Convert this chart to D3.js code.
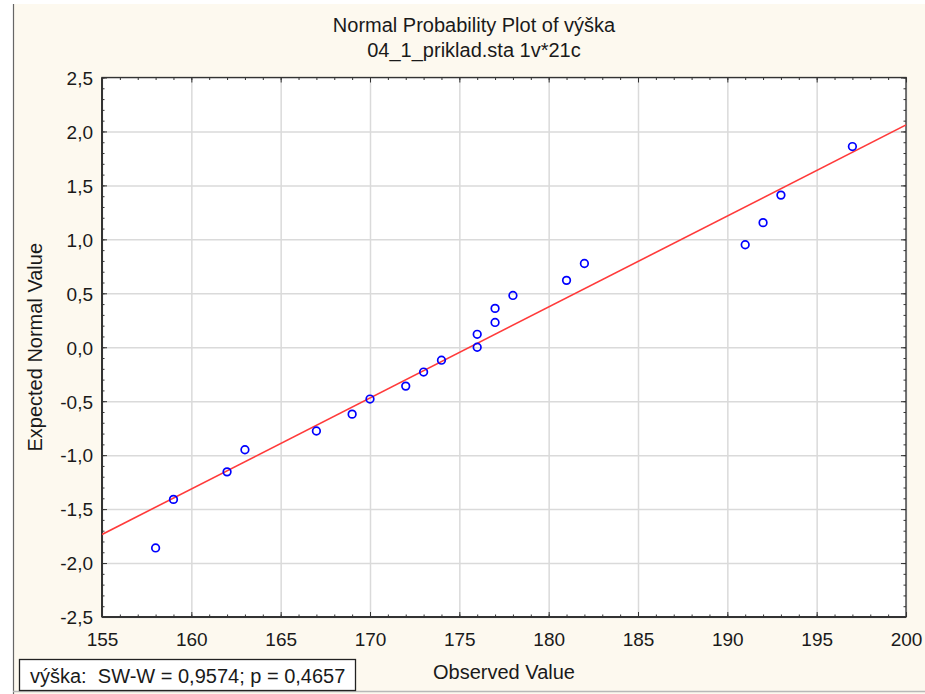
<!DOCTYPE html>
<html><head><meta charset="utf-8">
<script src="https://cdn.jsdelivr.net/npm/d3@7"></script>
<style>
html,body{margin:0;padding:0;background:#fff;}
svg{display:block;font-family:"Liberation Sans",Arial,sans-serif;}
</style></head>
<body>
<svg id="c" width="925" height="694"></svg>
<script>
// ---- data ----
const observed = [158,159,162,163,167,169,170,172,173,174,176,176,177,177,178,181,182,191,192,193,197];
const expected = [-1.86,-1.41,-1.155,-0.95,-0.776,-0.62,-0.48,-0.36,-0.23,-0.12,0.0,0.12,0.23,0.36,0.48,0.62,0.776,0.95,1.155,1.41,1.86];
const fitX = [155, 200];
const fitY = [-1.735, 2.06];
const xTicks = [155,160,165,170,175,180,185,190,195,200];
const yTicks = [-2.5,-2.0,-1.5,-1.0,-0.5,0.0,0.5,1.0,1.5,2.0,2.5];
const titleLines = ["Normal Probability Plot of výška", "04_1_priklad.sta 1v*21c"];
const xLabel = "Observed Value";
const yLabel = "Expected Normal Value";
const statText = "výška:  SW-W = 0,9574; p = 0,4657";

const svg = d3.select("#c");
const W = 925, H = 694;
const m = {l:102, t:77.5, r:906, b:617};

// background
svg.append("rect").attr("x",0).attr("y",0).attr("width",W).attr("height",H).attr("fill","#fff");
svg.append("rect").attr("x",13).attr("y",4).attr("width",W-13).attr("height",H-4).attr("fill","#fdf9ef");
svg.append("line").attr("x1",13.5).attr("x2",13.5).attr("y1",4).attr("y2",H).attr("stroke","#666").attr("stroke-width",1.2);
svg.append("line").attr("x1",13).attr("x2",W).attr("y1",691.5).attr("y2",691.5).attr("stroke","#b8b8b8").attr("stroke-width",1.5);

const x = d3.scaleLinear().domain([155,200]).range([m.l, m.r]);
const y = d3.scaleLinear().domain([-2.5,2.5]).range([m.b, m.t]);
const fmt = d => d3.format(".1f")(d).replace(".", ",").replace("−","-");

// plot area
svg.append("rect").attr("x",m.l).attr("y",m.t).attr("width",m.r-m.l).attr("height",m.b-m.t).attr("fill","#fff");

// gridlines
const gx = svg.append("g").attr("transform",`translate(0,${m.b})`)
  .call(d3.axisBottom(x).tickValues(xTicks).tickSize(-(m.b-m.t)).tickFormat(""));
const gy = svg.append("g").attr("transform",`translate(${m.l},0)`)
  .call(d3.axisLeft(y).tickValues(yTicks).tickSize(-(m.r-m.l)).tickFormat(""));
[gx,gy].forEach(g=>{g.select(".domain").remove(); g.selectAll("line").attr("stroke","#dadada").attr("stroke-width",1.5);});

// minor ticks
const minorX = d3.range(155,201,1);
const minorY = d3.range(-25,26,1).map(v=>v/10);
function ticksAxis(axis, tr, size, vals){
  const g = svg.append("g").attr("transform",tr).call(axis.tickValues(vals).tickSizeInner(size).tickSizeOuter(0).tickFormat(""));
  g.select(".domain").remove();
  g.selectAll("line").attr("stroke","#333").attr("stroke-width",1);
  return g;
}
ticksAxis(d3.axisBottom(x), `translate(0,${m.b})`, -2.5, minorX);
ticksAxis(d3.axisTop(x), `translate(0,${m.t})`, -2.5, minorX);
ticksAxis(d3.axisLeft(y), `translate(${m.l},0)`, -2.5, minorY);
ticksAxis(d3.axisRight(y), `translate(${m.r},0)`, -2.5, minorY);
ticksAxis(d3.axisBottom(x), `translate(0,${m.b})`, -5, xTicks);
ticksAxis(d3.axisTop(x), `translate(0,${m.t})`, -5, xTicks);
ticksAxis(d3.axisLeft(y), `translate(${m.l},0)`, -5, yTicks);
ticksAxis(d3.axisRight(y), `translate(${m.r},0)`, -5, yTicks);

// tick labels
const xl = svg.append("g").attr("transform",`translate(0,${m.b})`)
  .call(d3.axisBottom(x).tickValues(xTicks).tickSize(0).tickPadding(0).tickFormat(d=>d));
xl.select(".domain").remove();
xl.selectAll("text").attr("font-size",19).attr("fill","#1a1a1a").attr("dy",null).attr("y",29).attr("font-family","Liberation Sans, Arial, sans-serif");
const yl = svg.append("g").attr("transform",`translate(${m.l},0)`)
  .call(d3.axisLeft(y).tickValues(yTicks).tickSize(0).tickPadding(9).tickFormat(fmt));
yl.select(".domain").remove();
yl.selectAll("text").attr("font-size",19).attr("fill","#1a1a1a").attr("dy","0.36em").attr("font-family","Liberation Sans, Arial, sans-serif");

// frame
svg.append("rect").attr("x",m.l).attr("y",m.t).attr("width",m.r-m.l).attr("height",m.b-m.t)
  .attr("fill","none").attr("stroke","#333").attr("stroke-width",1.3);
svg.append("line").attr("x1",m.l).attr("x2",m.l).attr("y1",m.t).attr("y2",m.b).attr("stroke","#333").attr("stroke-width",2);
svg.append("line").attr("x1",m.l).attr("x2",m.r).attr("y1",m.b).attr("y2",m.b).attr("stroke","#333").attr("stroke-width",2);

// clip
svg.append("clipPath").attr("id","clip").append("rect").attr("x",m.l).attr("y",m.t).attr("width",m.r-m.l).attr("height",m.b-m.t);

// fit line
const line = d3.line().x(d=>x(d[0])).y(d=>y(d[1]));
svg.append("path").attr("clip-path","url(#clip)").datum(d3.zip(fitX,fitY)).attr("d",line)
  .attr("fill","none").attr("stroke","#ff3a3a").attr("stroke-width",1.6);

// points
svg.append("g").selectAll("circle").data(d3.zip(observed,expected)).join("circle")
  .attr("cx",d=>x(d[0])).attr("cy",d=>y(d[1])).attr("r",3.8)
  .attr("fill","none").attr("stroke","#0000ff").attr("stroke-width",1.7);

// titles
svg.append("g").selectAll("text").data(titleLines).join("text")
  .attr("x",474).attr("y",(d,i)=>31.5+i*25).attr("text-anchor","middle")
  .attr("font-size",20).attr("fill","#1a1a1a").text(d=>d);

svg.append("text").attr("x",504).attr("y",679).attr("text-anchor","middle")
  .attr("font-size",20).attr("fill","#1a1a1a").text(xLabel);
svg.append("text").attr("transform",`translate(42,${(m.t+m.b)/2}) rotate(-90)`).attr("text-anchor","middle")
  .attr("font-size",20).attr("fill","#1a1a1a").text(yLabel);

// stat box
svg.append("rect").attr("x",19.5).attr("y",659.5).attr("width",336).attr("height",31)
  .attr("fill","#fff").attr("stroke","#222").attr("stroke-width",1.3);
svg.append("text").attr("x",30).attr("y",682.5).attr("font-size",20).attr("fill","#1a1a1a").attr("xml:space","preserve")
  .style("white-space","pre").text(statText);
</script>
</body></html>
